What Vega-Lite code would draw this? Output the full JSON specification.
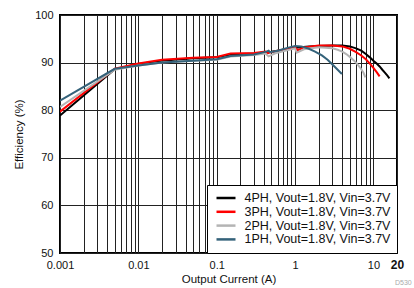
{
  "$schema": "https://vega.github.io/schema/vega-lite/v6.json",
  "width": 337,
  "height": 238,
  "autosize": {"type": "none"},
  "padding": {"left": 60, "top": 15, "right": 17, "bottom": 35},
  "background": "white",
  "title": {"text": "D530", "orient": "bottom", "anchor": "end", "fontSize": 7, "color": "#aaaaaa", "fontWeight": "normal", "font": "Liberation Sans", "dx": 8, "offset": -6},
  "config": {
    "font": "Liberation Sans",
    "view": {"stroke": "black", "strokeWidth": 2},
    "axis": {"labelFont": "Liberation Sans", "titleFont": "Liberation Sans", "labelColor": "#111", "titleColor": "#111", "titleFontWeight": "normal", "labelFontSize": 11, "titleFontSize": 11.5, "domain": false, "ticks": false, "gridColor": "#222", "gridWidth": 1, "gridOpacity": 1}
  },
  "data": {"values": [
    {"series": "4PH, Vout=1.8V, Vin=3.7V", "current": 0.001, "eff": 78.9},
    {"series": "4PH, Vout=1.8V, Vin=3.7V", "current": 0.005, "eff": 88.6},
    {"series": "4PH, Vout=1.8V, Vin=3.7V", "current": 0.01, "eff": 89.7},
    {"series": "4PH, Vout=1.8V, Vin=3.7V", "current": 0.02, "eff": 90.4},
    {"series": "4PH, Vout=1.8V, Vin=3.7V", "current": 0.05, "eff": 90.9},
    {"series": "4PH, Vout=1.8V, Vin=3.7V", "current": 0.1, "eff": 91.1},
    {"series": "4PH, Vout=1.8V, Vin=3.7V", "current": 0.15, "eff": 91.7},
    {"series": "4PH, Vout=1.8V, Vin=3.7V", "current": 0.3, "eff": 91.9},
    {"series": "4PH, Vout=1.8V, Vin=3.7V", "current": 0.5, "eff": 92.3},
    {"series": "4PH, Vout=1.8V, Vin=3.7V", "current": 0.7, "eff": 92.7},
    {"series": "4PH, Vout=1.8V, Vin=3.7V", "current": 1, "eff": 93.1},
    {"series": "4PH, Vout=1.8V, Vin=3.7V", "current": 1.5, "eff": 93.4},
    {"series": "4PH, Vout=1.8V, Vin=3.7V", "current": 2, "eff": 93.5},
    {"series": "4PH, Vout=1.8V, Vin=3.7V", "current": 3, "eff": 93.6},
    {"series": "4PH, Vout=1.8V, Vin=3.7V", "current": 4, "eff": 93.6},
    {"series": "4PH, Vout=1.8V, Vin=3.7V", "current": 5, "eff": 93.4},
    {"series": "4PH, Vout=1.8V, Vin=3.7V", "current": 6, "eff": 93.0},
    {"series": "4PH, Vout=1.8V, Vin=3.7V", "current": 7, "eff": 92.5},
    {"series": "4PH, Vout=1.8V, Vin=3.7V", "current": 8, "eff": 91.8},
    {"series": "4PH, Vout=1.8V, Vin=3.7V", "current": 9, "eff": 91.1},
    {"series": "4PH, Vout=1.8V, Vin=3.7V", "current": 10, "eff": 90.4},
    {"series": "4PH, Vout=1.8V, Vin=3.7V", "current": 11, "eff": 89.8},
    {"series": "4PH, Vout=1.8V, Vin=3.7V", "current": 12, "eff": 89.2},
    {"series": "4PH, Vout=1.8V, Vin=3.7V", "current": 13, "eff": 88.5},
    {"series": "4PH, Vout=1.8V, Vin=3.7V", "current": 14, "eff": 87.9},
    {"series": "4PH, Vout=1.8V, Vin=3.7V", "current": 15, "eff": 87.3},
    {"series": "4PH, Vout=1.8V, Vin=3.7V", "current": 16, "eff": 86.7},

    {"series": "3PH, Vout=1.8V, Vin=3.7V", "current": 0.001, "eff": 79.7},
    {"series": "3PH, Vout=1.8V, Vin=3.7V", "current": 0.005, "eff": 88.7},
    {"series": "3PH, Vout=1.8V, Vin=3.7V", "current": 0.01, "eff": 89.8},
    {"series": "3PH, Vout=1.8V, Vin=3.7V", "current": 0.02, "eff": 90.6},
    {"series": "3PH, Vout=1.8V, Vin=3.7V", "current": 0.05, "eff": 91.0},
    {"series": "3PH, Vout=1.8V, Vin=3.7V", "current": 0.1, "eff": 91.2},
    {"series": "3PH, Vout=1.8V, Vin=3.7V", "current": 0.15, "eff": 91.9},
    {"series": "3PH, Vout=1.8V, Vin=3.7V", "current": 0.3, "eff": 92.0},
    {"series": "3PH, Vout=1.8V, Vin=3.7V", "current": 0.42, "eff": 92.3},
    {"series": "3PH, Vout=1.8V, Vin=3.7V", "current": 0.45, "eff": 92.0},
    {"series": "3PH, Vout=1.8V, Vin=3.7V", "current": 0.5, "eff": 92.2},
    {"series": "3PH, Vout=1.8V, Vin=3.7V", "current": 0.7, "eff": 92.7},
    {"series": "3PH, Vout=1.8V, Vin=3.7V", "current": 1, "eff": 93.2},
    {"series": "3PH, Vout=1.8V, Vin=3.7V", "current": 1.08, "eff": 92.6},
    {"series": "3PH, Vout=1.8V, Vin=3.7V", "current": 1.3, "eff": 93.2},
    {"series": "3PH, Vout=1.8V, Vin=3.7V", "current": 2, "eff": 93.6},
    {"series": "3PH, Vout=1.8V, Vin=3.7V", "current": 3, "eff": 93.6},
    {"series": "3PH, Vout=1.8V, Vin=3.7V", "current": 4, "eff": 93.4},
    {"series": "3PH, Vout=1.8V, Vin=3.7V", "current": 5, "eff": 92.9},
    {"series": "3PH, Vout=1.8V, Vin=3.7V", "current": 6, "eff": 92.2},
    {"series": "3PH, Vout=1.8V, Vin=3.7V", "current": 7, "eff": 91.5},
    {"series": "3PH, Vout=1.8V, Vin=3.7V", "current": 8, "eff": 90.7},
    {"series": "3PH, Vout=1.8V, Vin=3.7V", "current": 9, "eff": 89.8},
    {"series": "3PH, Vout=1.8V, Vin=3.7V", "current": 10, "eff": 88.9},
    {"series": "3PH, Vout=1.8V, Vin=3.7V", "current": 11, "eff": 88.0},
    {"series": "3PH, Vout=1.8V, Vin=3.7V", "current": 12, "eff": 87.1},

    {"series": "2PH, Vout=1.8V, Vin=3.7V", "current": 0.001, "eff": 80.7},
    {"series": "2PH, Vout=1.8V, Vin=3.7V", "current": 0.005, "eff": 88.5},
    {"series": "2PH, Vout=1.8V, Vin=3.7V", "current": 0.01, "eff": 89.4},
    {"series": "2PH, Vout=1.8V, Vin=3.7V", "current": 0.02, "eff": 90.0},
    {"series": "2PH, Vout=1.8V, Vin=3.7V", "current": 0.05, "eff": 90.4},
    {"series": "2PH, Vout=1.8V, Vin=3.7V", "current": 0.1, "eff": 90.6},
    {"series": "2PH, Vout=1.8V, Vin=3.7V", "current": 0.15, "eff": 91.3},
    {"series": "2PH, Vout=1.8V, Vin=3.7V", "current": 0.3, "eff": 91.6},
    {"series": "2PH, Vout=1.8V, Vin=3.7V", "current": 0.42, "eff": 91.9},
    {"series": "2PH, Vout=1.8V, Vin=3.7V", "current": 0.46, "eff": 91.3},
    {"series": "2PH, Vout=1.8V, Vin=3.7V", "current": 0.55, "eff": 91.9},
    {"series": "2PH, Vout=1.8V, Vin=3.7V", "current": 0.7, "eff": 92.4},
    {"series": "2PH, Vout=1.8V, Vin=3.7V", "current": 1, "eff": 93.0},
    {"series": "2PH, Vout=1.8V, Vin=3.7V", "current": 1.05, "eff": 92.1},
    {"series": "2PH, Vout=1.8V, Vin=3.7V", "current": 1.3, "eff": 92.8},
    {"series": "2PH, Vout=1.8V, Vin=3.7V", "current": 2, "eff": 93.2},
    {"series": "2PH, Vout=1.8V, Vin=3.7V", "current": 3, "eff": 93.0},
    {"series": "2PH, Vout=1.8V, Vin=3.7V", "current": 3.5, "eff": 92.7},
    {"series": "2PH, Vout=1.8V, Vin=3.7V", "current": 4, "eff": 92.3},
    {"series": "2PH, Vout=1.8V, Vin=3.7V", "current": 4.5, "eff": 91.8},
    {"series": "2PH, Vout=1.8V, Vin=3.7V", "current": 5, "eff": 91.2},
    {"series": "2PH, Vout=1.8V, Vin=3.7V", "current": 5.5, "eff": 90.6},
    {"series": "2PH, Vout=1.8V, Vin=3.7V", "current": 6, "eff": 90.0},
    {"series": "2PH, Vout=1.8V, Vin=3.7V", "current": 6.5, "eff": 89.3},
    {"series": "2PH, Vout=1.8V, Vin=3.7V", "current": 7, "eff": 88.6},
    {"series": "2PH, Vout=1.8V, Vin=3.7V", "current": 7.5, "eff": 87.8},
    {"series": "2PH, Vout=1.8V, Vin=3.7V", "current": 7.9, "eff": 86.9},

    {"series": "1PH, Vout=1.8V, Vin=3.7V", "current": 0.001, "eff": 82.0},
    {"series": "1PH, Vout=1.8V, Vin=3.7V", "current": 0.005, "eff": 88.7},
    {"series": "1PH, Vout=1.8V, Vin=3.7V", "current": 0.01, "eff": 89.4},
    {"series": "1PH, Vout=1.8V, Vin=3.7V", "current": 0.02, "eff": 90.0},
    {"series": "1PH, Vout=1.8V, Vin=3.7V", "current": 0.05, "eff": 90.4},
    {"series": "1PH, Vout=1.8V, Vin=3.7V", "current": 0.1, "eff": 90.7},
    {"series": "1PH, Vout=1.8V, Vin=3.7V", "current": 0.15, "eff": 91.4},
    {"series": "1PH, Vout=1.8V, Vin=3.7V", "current": 0.3, "eff": 91.7},
    {"series": "1PH, Vout=1.8V, Vin=3.7V", "current": 0.43, "eff": 92.3},
    {"series": "1PH, Vout=1.8V, Vin=3.7V", "current": 0.46, "eff": 92.5},
    {"series": "1PH, Vout=1.8V, Vin=3.7V", "current": 0.48, "eff": 92.2},
    {"series": "1PH, Vout=1.8V, Vin=3.7V", "current": 0.6, "eff": 92.5},
    {"series": "1PH, Vout=1.8V, Vin=3.7V", "current": 0.8, "eff": 93.1},
    {"series": "1PH, Vout=1.8V, Vin=3.7V", "current": 1, "eff": 93.5},
    {"series": "1PH, Vout=1.8V, Vin=3.7V", "current": 1.2, "eff": 93.4},
    {"series": "1PH, Vout=1.8V, Vin=3.7V", "current": 1.5, "eff": 92.9},
    {"series": "1PH, Vout=1.8V, Vin=3.7V", "current": 1.8, "eff": 92.3},
    {"series": "1PH, Vout=1.8V, Vin=3.7V", "current": 2.2, "eff": 91.5},
    {"series": "1PH, Vout=1.8V, Vin=3.7V", "current": 2.6, "eff": 90.6},
    {"series": "1PH, Vout=1.8V, Vin=3.7V", "current": 3, "eff": 89.6},
    {"series": "1PH, Vout=1.8V, Vin=3.7V", "current": 3.5, "eff": 88.5},
    {"series": "1PH, Vout=1.8V, Vin=3.7V", "current": 3.96, "eff": 87.6}
  ]},
  "mark": {"type": "line", "strokeWidth": 2, "interpolate": "linear", "clip": true},
  "encoding": {
    "x": {
      "field": "current", "type": "quantitative",
      "scale": {"type": "log", "domain": [0.001, 20], "nice": false},
      "axis": {
        "title": "Output Current (A)",
        "values": [0.001,0.002,0.003,0.004,0.005,0.006,0.007,0.008,0.009,0.01,0.02,0.03,0.04,0.05,0.06,0.07,0.08,0.09,0.1,0.2,0.3,0.4,0.5,0.6,0.7,0.8,0.9,1,2,3,4,5,6,7,8,9,10,20],
        "format": "~g",
        "labelExpr": "indexof([0.001,0.01,0.1,1,10,20], datum.value) >= 0 ? datum.label : ''",
        "labelOverlap": false,
        "labelFlush": false,
        "labelPadding": 6,
        "labelFontWeight": {"condition": {"test": "datum.value == 20", "value": "bold"}, "value": "normal"},
        "labelFontSize": {"condition": {"test": "datum.value == 20", "value": 12}, "value": 11},
        "titlePadding": 3,
        "grid": true
      }
    },
    "y": {
      "field": "eff", "type": "quantitative",
      "scale": {"domain": [50, 100], "nice": false, "zero": false},
      "axis": {"title": "Efficiency (%)", "values": [50,60,70,80,90,100], "labelPadding": 7, "titlePadding": 10, "grid": true}
    },
    "color": {
      "field": "series", "type": "nominal",
      "scale": {
        "domain": ["4PH, Vout=1.8V, Vin=3.7V", "3PH, Vout=1.8V, Vin=3.7V", "2PH, Vout=1.8V, Vin=3.7V", "1PH, Vout=1.8V, Vin=3.7V"],
        "range": ["#000000", "#ff0000", "#b4b4b4", "#34627a"]
      },
      "legend": {
        "title": null,
        "orient": "bottom-right",
        "offset": 0,
        "padding": 6.5,
        "fillColor": "white",
        "strokeColor": "black",
        "symbolType": "M-1.9,0H1.9",
        "symbolSize": 100,
        "symbolOffset": 6,
        "symbolStrokeWidth": 2.5,
        "labelFont": "Liberation Sans",
        "labelFontSize": 12.5,
        "labelColor": "#111",
        "labelOffset": 12,
        "rowPadding": 0.8,
        "labelLimit": 300
      }
    }
  }
}
